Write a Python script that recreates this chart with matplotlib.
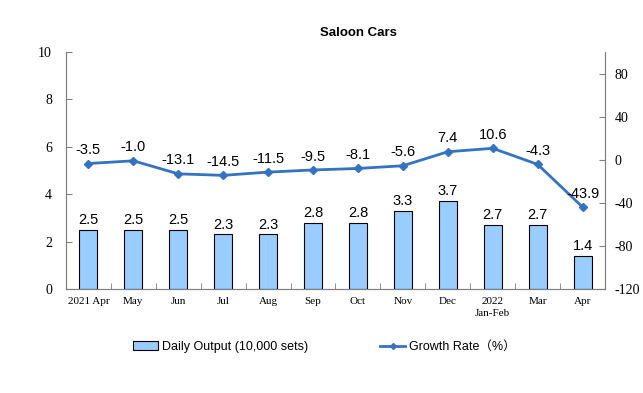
import numpy as np
import matplotlib.pyplot as plt
from matplotlib.lines import Line2D
from matplotlib.patches import Patch

months = ["2021 Apr", "May", "Jun", "Jul", "Aug", "Sep", "Oct", "Nov", "Dec",
          "2022\nJan-Feb", "Mar", "Apr"]
output = [2.5, 2.5, 2.5, 2.3, 2.3, 2.8, 2.8, 3.3, 3.7, 2.7, 2.7, 1.4]
growth = [-3.5, -1.0, -13.1, -14.5, -11.5, -9.5, -8.1, -5.6, 7.4, 10.6, -4.3, -43.9]

plt.rcParams["axes.unicode_minus"] = False
serif = "Liberation Serif"
sans = "Liberation Sans"
bar_col = "#99CCFF"
line_col = "#3473C2"
spine_col = "#808080"

fig = plt.figure(figsize=(6.43, 3.93), dpi=100)
ax = fig.add_axes([0.1026, 0.2646, 0.8383, 0.6031])
ax2 = ax.twinx()

x = np.arange(len(months))
ax.bar(x, output, width=0.4, color=bar_col, edgecolor="black", linewidth=0.8, zorder=2)
for xi, v in zip(x, output):
    ax.text(xi, v + 0.12, f"{v:.1f}", ha="center", va="bottom", fontsize=10.5, family=sans)

ax2.plot(x, growth, color=line_col, lw=2, marker="D", ms=4, zorder=3)
for xi, v in zip(x, growth):
    ax2.text(xi, v + 6, f"{v:.1f}", ha="center", va="bottom", fontsize=10.5, family=sans)

ax.set_xlim(-0.5, len(months) - 0.5)
ax.set_ylim(0, 10)
ax.set_yticks(range(0, 11, 2))
ax2.set_ylim(-120, 100)
ax2.set_yticks(range(-120, 101, 40))
ax2.set_yticklabels([str(t) if t < 100 else "" for t in range(-120, 101, 40)])

ax.set_xticks(x)
ax.set_xticklabels(months, fontsize=8, family=serif, linespacing=1.4)
ax.set_xticks(np.arange(-0.5, len(months), 1), minor=True)
ax.tick_params(axis="x", which="major", length=0, pad=6)
ax.tick_params(axis="x", which="minor", direction="in", length=4, color=spine_col)
ax.tick_params(axis="y", direction="in", length=4, color=spine_col, labelsize=10, pad=10)
ax2.tick_params(axis="y", direction="in", length=4, color=spine_col, labelsize=10, pad=7)
for lab in ax.get_yticklabels() + ax2.get_yticklabels():
    lab.set_family(serif)

for a in (ax, ax2):
    a.spines["top"].set_visible(False)
    for s in ("left", "right", "bottom"):
        a.spines[s].set_color(spine_col)

fig.text(0.558, 0.916, "Saloon Cars", ha="center", va="center",
         fontsize=9.5, fontweight="bold", family=sans)

handles = [Patch(facecolor=bar_col, edgecolor="black", linewidth=0.8),
           Line2D([], [], color=line_col, lw=2, marker="D", ms=3)]
fig.legend(handles, ["Daily Output (10,000 sets)", "Growth Rate（%）"],
           loc="center left", bbox_to_anchor=(0.189, 0.117), ncol=2, frameon=False,
           prop={"family": [sans, "Noto Sans CJK SC"], "size": 9},
           columnspacing=5.8, handlelength=2.0, handletextpad=0.3)

fig.savefig("out.png", dpi=100)
